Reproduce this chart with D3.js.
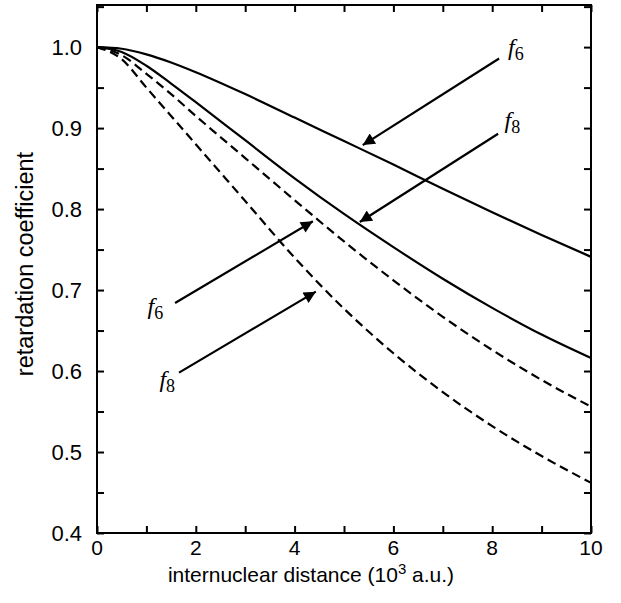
<!DOCTYPE html>
<html>
<head>
<meta charset="utf-8">
<script src="https://cdn.jsdelivr.net/npm/d3@7"></script>
<style>
  body { margin: 0; background: #fff; }
  text { font-family: "Liberation Sans", Arial, sans-serif; }
</style>
</head>
<body>
<svg id="chart"></svg>
<script>
// 数据
var xs        = [0, 0.5, 1, 1.5, 2, 3, 4, 5, 6, 7, 8, 9, 10];
var f6Solid   = [1.0, 0.998, 0.991, 0.981, 0.969, 0.942, 0.913, 0.884, 0.855, 0.825, 0.796, 0.768, 0.741];
var f8Solid   = [1.0, 0.994, 0.977, 0.955, 0.932, 0.885, 0.838, 0.794, 0.753, 0.714, 0.678, 0.645, 0.616];
var f6Dashed  = [1.0, 0.99, 0.967, 0.942, 0.915, 0.863, 0.811, 0.760, 0.712, 0.667, 0.626, 0.589, 0.556];
var f8Dashed  = [1.0, 0.985, 0.95, 0.915, 0.88, 0.81, 0.740, 0.677, 0.622, 0.574, 0.532, 0.495, 0.462];
var xTicks    = [0, 2, 4, 6, 8, 10];
var yTicks    = [0.4, 0.5, 0.6, 0.7, 0.8, 0.9, 1.0];

// 箭头注释：[起点x, 起点y, 终点x, 终点y, 标签x, 标签y, 下标, 对齐]
var arrows = [
    [8.14, 0.986, 5.38, 0.879, 8.32, 0.990, "6", "start"],
    [8.12, 0.893, 5.32, 0.784, 8.25, 0.900, "8", "start"],
    [1.58, 0.684, 4.37, 0.785, 1.34, 0.671, "6", "end"],
    [1.66, 0.598, 4.43, 0.698, 1.58, 0.580, "8", "end"]
];

var width = 621;
var height = 603;
var margin = {top: 5, right: 30, bottom: 70, left: 97};

var svg = d3.select("#chart")
    .attr("width", width)
    .attr("height", height);

var x = d3.scaleLinear()
    .domain([0, 10])
    .range([margin.left, width - margin.right]);

var y = d3.scaleLinear()
    .domain([0.4, 1.052])
    .range([height - margin.bottom, margin.top]);

// 箭头
svg.append("defs").append("marker")
    .attr("id", "arrow")
    .attr("viewBox", "0 0 10 10")
    .attr("refX", 10)
    .attr("refY", 5)
    .attr("markerWidth", 16)
    .attr("markerHeight", 12)
    .attr("markerUnits", "userSpaceOnUse")
    .attr("orient", "auto")
    .append("path")
    .attr("d", "M0,0 L10,5 L0,10 z")
    .attr("fill", "#000");

// 曲线
var line = d3.line()
    .x((d, i) => x(xs[i]))
    .y(d => y(d))
    .curve(d3.curveMonotoneX);

var series = [
    {values: f6Solid, dash: null},
    {values: f8Solid, dash: null},
    {values: f6Dashed, dash: "9,5"},
    {values: f8Dashed, dash: "9,5"}
];

series.forEach(s => {
    svg.append("path")
        .datum(s.values)
        .attr("fill", "none")
        .attr("stroke", "#000")
        .attr("stroke-width", 2.2)
        .style("stroke-dasharray", s.dash)
        .attr("d", line);
});

// 箭头线与标签
arrows.forEach(a => {
    svg.append("line")
        .attr("x1", x(a[0])).attr("y1", y(a[1]))
        .attr("x2", x(a[2])).attr("y2", y(a[3]))
        .attr("stroke", "#000")
        .attr("stroke-width", 2.2)
        .attr("marker-end", "url(#arrow)");

    var t = svg.append("text")
        .attr("x", x(a[4]))
        .attr("y", y(a[5]))
        .attr("text-anchor", a[7])
        .style("font-family", "'Liberation Serif', 'Times New Roman', serif")
        .style("font-size", "24px");
    t.append("tspan").style("font-style", "italic").text("f");
    t.append("tspan").attr("dy", 5).style("font-size", "18px").text(a[6]);
});

// 坐标轴（刻度朝内，四边都有）
var minorX = d3.range(0, 10.01, 1);
var minorY = d3.range(0.4, 1.051, 0.05);

svg.append("g")
    .attr("transform", `translate(0,${height - margin.bottom})`)
    .call(d3.axisTop(x).tickValues(minorX).tickSize(7).tickFormat(""));
svg.append("g")
    .attr("transform", `translate(0,${margin.top})`)
    .call(d3.axisBottom(x).tickValues(minorX).tickSize(7).tickFormat(""));
svg.append("g")
    .attr("transform", `translate(${margin.left},0)`)
    .call(d3.axisRight(y).tickValues(minorY).tickSize(7).tickFormat(""));
svg.append("g")
    .attr("transform", `translate(${width - margin.right},0)`)
    .call(d3.axisLeft(y).tickValues(minorY).tickSize(7).tickFormat(""));

svg.selectAll(".domain").remove();
svg.selectAll(".tick line").attr("stroke", "#000").attr("stroke-width", 2);

// 边框
svg.append("rect")
    .attr("x", margin.left)
    .attr("y", margin.top)
    .attr("width", width - margin.left - margin.right)
    .attr("height", height - margin.top - margin.bottom)
    .attr("fill", "none")
    .attr("stroke", "#000")
    .attr("stroke-width", 2);

// 刻度标签
svg.append("g").selectAll("text")
    .data(xTicks)
    .join("text")
    .attr("x", d => x(d))
    .attr("y", height - margin.bottom + 22)
    .attr("text-anchor", "middle")
    .style("font-size", "21px")
    .text(d => d);

svg.append("g").selectAll("text")
    .data(yTicks)
    .join("text")
    .attr("x", margin.left - 15)
    .attr("y", d => y(d) + 8)
    .attr("text-anchor", "end")
    .style("font-size", "22px")
    .text(d => d.toFixed(1));

// 轴标题
var xl = svg.append("text")
    .attr("x", 311)
    .attr("y", height - margin.bottom + 49)
    .attr("text-anchor", "middle")
    .style("font-size", "21px");
xl.append("tspan").text("internuclear distance (10");
xl.append("tspan").attr("dy", -8).style("font-size", "15px").text("3");
xl.append("tspan").attr("dy", 8).text(" a.u.)");

svg.append("text")
    .attr("transform", `translate(33,264) rotate(-90)`)
    .attr("text-anchor", "middle")
    .style("font-size", "23.5px")
    .text("retardation coefficient");
</script>
</body>
</html>
